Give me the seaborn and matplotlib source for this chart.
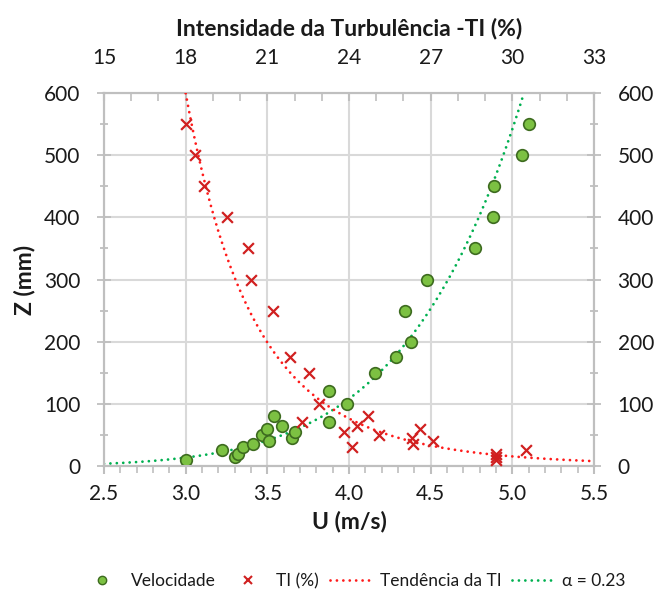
import numpy as np
import pandas as pd
import matplotlib
matplotlib.use("Agg")
import matplotlib.pyplot as plt
from matplotlib.ticker import MultipleLocator
from matplotlib.lines import Line2D
import seaborn as sns

# ---- data ----
vel_u = [3.00, 3.22, 3.30, 3.32, 3.35, 3.41, 3.47, 3.50, 3.51, 3.54, 3.59, 3.65, 3.67,
         3.88, 3.88, 3.99, 4.16, 4.29, 4.38, 4.34, 4.48, 4.77, 4.88, 4.89, 5.06, 5.10]
vel_z = [10, 25, 15, 20, 30, 35, 50, 60, 40, 80, 65, 45, 55,
         120, 70, 100, 150, 175, 200, 250, 300, 350, 400, 450, 500, 550]

ti_val = [18.0, 18.34, 18.67, 19.5, 20.3, 20.4, 21.2, 21.83, 22.52, 22.9, 22.29, 23.8,
          24.1, 24.3, 24.7, 25.1, 26.3, 26.36, 26.6, 27.1, 29.4, 29.4, 29.4, 30.5]
ti_z = [550, 500, 450, 400, 350, 300, 250, 175, 150, 100, 70, 55,
        30, 65, 80, 50, 45, 35, 60, 40, 20, 15, 10, 25]

u_ticks = [2.5, 3.0, 3.5, 4.0, 4.5, 5.0, 5.5]
ti_ticks = [15, 18, 21, 24, 27, 30, 33]
z_ticks = [0, 100, 200, 300, 400, 500, 600]

legend_labels = ["Velocidade", "TI (%)", "Tendência da TI", "α = 0.23"]

# ---- power-law trend fits (like Excel "power" trendlines) ----
b_v, a_v = np.polyfit(np.log(vel_u), np.log(vel_z), 1)
u_line = np.linspace(u_ticks[0], u_ticks[-1], 400)
vel_trend = pd.DataFrame({"U": u_line, "Z": np.exp(a_v) * u_line ** b_v})

b_t, a_t = np.polyfit(np.log(ti_val), np.log(ti_z), 1)
ti_line = np.linspace(min(ti_val), ti_ticks[-1], 400)
ti_trend = pd.DataFrame({"TI": ti_line, "Z": np.exp(a_t) * ti_line ** b_t})

vel_df = pd.DataFrame({"U": vel_u, "Z": vel_z})
ti_df = pd.DataFrame({"TI": ti_val, "Z": ti_z})

# ---- style ----
sns.set_style("white")
plt.rcParams["font.family"] = ["Lato", "DejaVu Sans"]
TXT = "#1a1a1a"
GRID = "#d9d9d9"
AX = "#bfbfbf"
GREEN_F = "#7cc142"
GREEN_E = "#3d6b1f"
RED_X = "#d02020"
RED_L = "#ff1a1a"
GREEN_L = "#00b050"
TICK_FS = 15
LAB_FS = 16.5

fig = plt.figure(figsize=(6.6, 5.96), dpi=100)
ax = fig.add_axes([104 / 660, 1 - 466 / 596, 490 / 660, 373 / 596])

dot = (0, (0.01, 2.3))

sns.lineplot(data=vel_trend, x="U", y="Z", ax=ax, color=GREEN_L, lw=2.0,
             linestyle=dot, dash_capstyle="round", zorder=3)
sns.scatterplot(data=vel_df, x="U", y="Z", ax=ax, s=70, color=GREEN_F,
                edgecolor=GREEN_E, linewidth=1.2, zorder=4)

ax.set_xlim(u_ticks[0], u_ticks[-1])
ax.set_ylim(z_ticks[0], z_ticks[-1])
ax.set_xticks(u_ticks)
ax.set_xticklabels([f"{v:.1f}" for v in u_ticks])
ax.set_yticks(z_ticks)
ax.xaxis.set_minor_locator(MultipleLocator(0.1))
ax.yaxis.set_minor_locator(MultipleLocator(50))
ax.grid(True, which="major", color=GRID, lw=1.5)
ax.set_axisbelow(True)
for s in ax.spines.values():
    s.set_color(AX)
    s.set_linewidth(1.5)
    s.set_visible(True)
ax.tick_params(axis="x", which="major", direction="out", length=6, width=1.5,
               color=AX, labelsize=TICK_FS, labelcolor=TXT, pad=7)
ax.tick_params(axis="x", which="minor", direction="out", length=5, width=1.2, color=AX)
ax.tick_params(axis="y", which="both", left=True, right=True, labelleft=True,
               labelright=True, direction="inout", color=AX, width=1.3,
               labelsize=TICK_FS, labelcolor=TXT, pad=12)
ax.tick_params(axis="y", which="major", length=10)
ax.tick_params(axis="y", which="minor", length=6)
ax.set_xlabel("U (m/s)", fontsize=LAB_FS, fontweight="bold", color=TXT, labelpad=5)
ax.set_ylabel("Z (mm)", fontsize=LAB_FS, fontweight="bold", color=TXT, labelpad=6)

ax2 = ax.twiny()
sns.lineplot(data=ti_trend, x="TI", y="Z", ax=ax2, color=RED_L, lw=2.0,
             linestyle=dot, dash_capstyle="round", zorder=3)
sns.scatterplot(data=ti_df, x="TI", y="Z", ax=ax2, s=60, marker="x",
                color=RED_X, linewidth=1.6, zorder=4)
ax2.set_xlim(ti_ticks[0], ti_ticks[-1])
ax2.set_ylim(z_ticks[0], z_ticks[-1])
ax2.set_xticks(ti_ticks)
ax2.xaxis.set_minor_locator(MultipleLocator(1))
ax2.tick_params(axis="x", which="major", direction="in", length=6, width=1.5,
                color=AX, labelsize=TICK_FS, labelcolor=TXT, pad=18)
ax2.tick_params(axis="x", which="minor", direction="in", length=6, width=1.2, color=AX)
for s in ax2.spines.values():
    s.set_color(AX)
    s.set_linewidth(1.5)
ax2.set_xlabel("Intensidade da Turbulência -TI (%)", fontsize=LAB_FS,
               fontweight="bold", color=TXT, labelpad=9)
ax2.grid(False)

handles = [
    Line2D([], [], marker="o", ls="none", markersize=6, markerfacecolor=GREEN_F,
           markeredgecolor=GREEN_E, markeredgewidth=1.0),
    Line2D([], [], marker="x", ls="none", markersize=6, color=RED_X, markeredgewidth=1.5),
    Line2D([], [], color=RED_L, lw=2.0, linestyle=dot, dash_capstyle="round"),
    Line2D([], [], color=GREEN_L, lw=2.0, linestyle=dot, dash_capstyle="round"),
]
fig.legend(handles, legend_labels, loc="center", bbox_to_anchor=(0.535, 0.025),
           ncol=4, frameon=False, fontsize=12.5, handlelength=2.5, handletextpad=0.4,
           columnspacing=0.6, labelcolor=TXT)

fig.savefig("out.png", dpi=100)
